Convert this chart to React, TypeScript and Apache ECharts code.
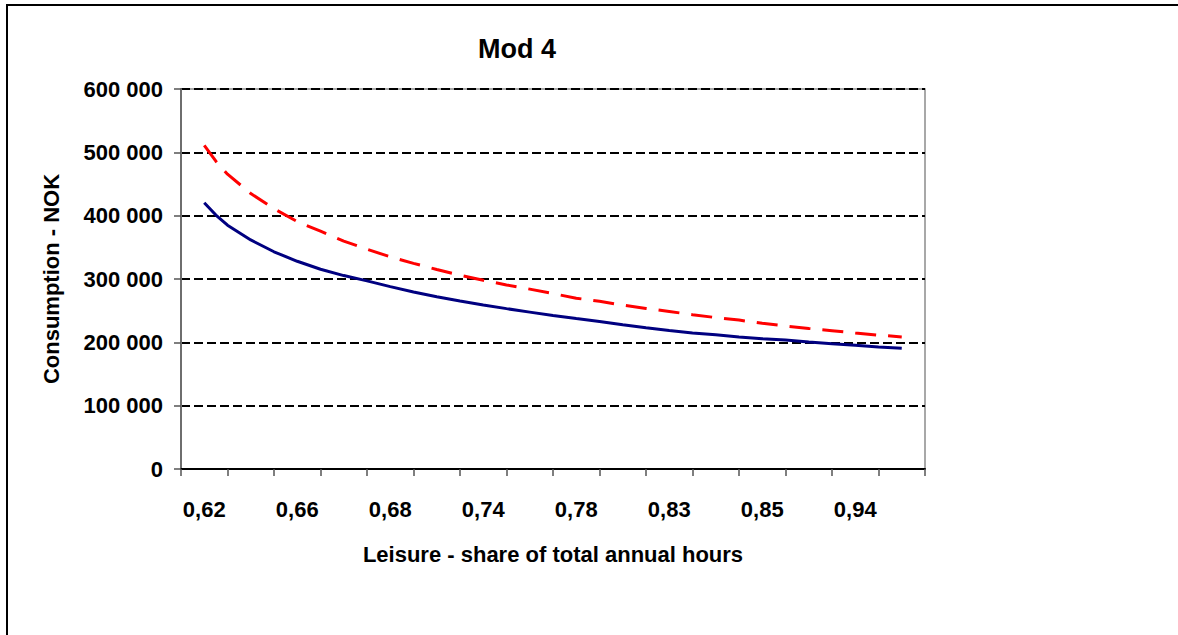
import React, { useEffect, useRef } from "react";
import * as echarts from "echarts";

// Category tick labels (every other category is labelled)
const xTickLabels = ["0,62", "0,66", "0,68", "0,74", "0,78", "0,83", "0,85", "0,94"];
// Position of each sample along the category axis (in category units)
const samplePositions = [
  0.5, 0.75, 1, 1.5, 2, 2.5, 3, 3.5, 4, 4.5, 5, 5.5, 6, 6.5, 7, 7.5, 8, 8.5, 9, 9.5, 10,
  10.5, 11, 11.5, 12, 12.5, 13, 13.5, 14, 14.5, 15, 15.5,
];
// Solid navy series
const seriesSolid = [
  420500, 401000, 385000, 361700, 343000, 328000, 315400, 305400, 297000, 288000, 279500,
  271900, 265400, 259100, 253200, 247700, 242200, 237500, 233000, 227800, 222900, 218600,
  214800, 211800, 208600, 205800, 203500, 200600, 197800, 195300, 192600, 190600,
];
// Dashed red series
const seriesDashed = [
  511000, 486000, 465500, 435000, 411000, 390600, 375500, 359800, 347000, 335000, 324700,
  315000, 306000, 297900, 290600, 284000, 277000, 269700, 264800, 258700, 253500, 248800,
  243500, 239100, 235100, 230000, 225800, 221900, 218400, 214800, 211400, 208500,
];
const yMin = 0;
const yMax = 600000;
const yStep = 100000;

const FONT = '"Liberation Sans", Arial, sans-serif';

function fmtThousands(v: number): string {
  return String(Math.round(v)).replace(/\B(?=(\d{3})+(?!\d))/g, " ");
}

export default function App() {
  const ref = useRef<HTMLDivElement>(null);

  useEffect(() => {
    if (!ref.current) return;
    const chart = echarts.init(ref.current, undefined, { renderer: "svg" });

    const categories: string[] = [];
    xTickLabels.forEach((l) => {
      categories.push(l);
      categories.push("");
    });

    const solidData = samplePositions.map((p, i) => [p, seriesSolid[i]]);
    const dashedData = samplePositions.map((p, i) => [p, seriesDashed[i]]);

    chart.setOption({
      animation: false,
      backgroundColor: "#fff",
      title: {
        text: "Mod 4",
        left: 512,
        top: 30,
        textAlign: "center",
        textStyle: { fontFamily: FONT, fontSize: 27, fontWeight: "bold", color: "#000" },
      },
      graphic: [
        {
          type: "rect",
          shape: { x: 7, y: 5, width: 1400, height: 900 },
          style: { fill: "none", stroke: "#000", lineWidth: 2 },
          silent: true,
        },
      ],
      grid: {
        left: 181,
        right: 253,
        top: 89,
        bottom: 166,
        show: true,
        borderColor: "#8c8c8c",
        borderWidth: 1.5,
        backgroundColor: "transparent",
      },
      xAxis: [
        {
          type: "category",
          data: categories,
          boundaryGap: true,
          name: "Leisure - share of total annual hours",
          nameLocation: "middle",
          nameGap: 74,
          nameTextStyle: { fontFamily: FONT, fontSize: 22, fontWeight: "bold", color: "#000" },
          axisLine: { show: true, lineStyle: { color: "#000", width: 2 } },
          axisTick: { show: true, interval: 0, length: 7, lineStyle: { color: "#555", width: 1.5 } },
          axisLabel: {
            interval: 0,
            margin: 29,
            fontFamily: FONT,
            fontSize: 22,
            fontWeight: "bold",
            color: "#000",
          },
          splitLine: { show: false },
        },
        {
          type: "value",
          min: 0,
          max: 16,
          show: false,
        },
      ],
      yAxis: {
        type: "value",
        min: yMin,
        max: yMax,
        interval: yStep,
        name: "Consumption - NOK",
        nameLocation: "middle",
        nameGap: 119,
        nameRotate: 90,
        nameTextStyle: { fontFamily: FONT, fontSize: 22, fontWeight: "bold", color: "#000" },
        axisLine: { show: true, lineStyle: { color: "#6e6e6e", width: 2 } },
        axisTick: { show: true, length: 7, lineStyle: { color: "#555", width: 1.5 } },
        axisLabel: {
          margin: 18,
          fontFamily: FONT,
          fontSize: 22,
          fontWeight: "bold",
          color: "#000",
          formatter: (v: number) => fmtThousands(v),
        },
        splitLine: {
          show: true,
          lineStyle: { color: "#000", width: 2, type: [9, 4] },
        },
      },
      series: [
        {
          type: "line",
          xAxisIndex: 1,
          data: solidData,
          showSymbol: false,
          symbol: "none",
          lineStyle: { color: "#000080", width: 3 },
          z: 3,
        },
        {
          type: "line",
          xAxisIndex: 1,
          data: dashedData,
          showSymbol: false,
          symbol: "none",
          lineStyle: { color: "#ff0000", width: 3, type: [21, 12] },
          z: 4,
        },
      ],
    });

    return () => chart.dispose();
  }, []);

  return (
    <div
      ref={ref}
      style={{ position: "fixed", left: 0, top: 0, width: 1178, height: 635, background: "#fff" }}
    />
  );
}
